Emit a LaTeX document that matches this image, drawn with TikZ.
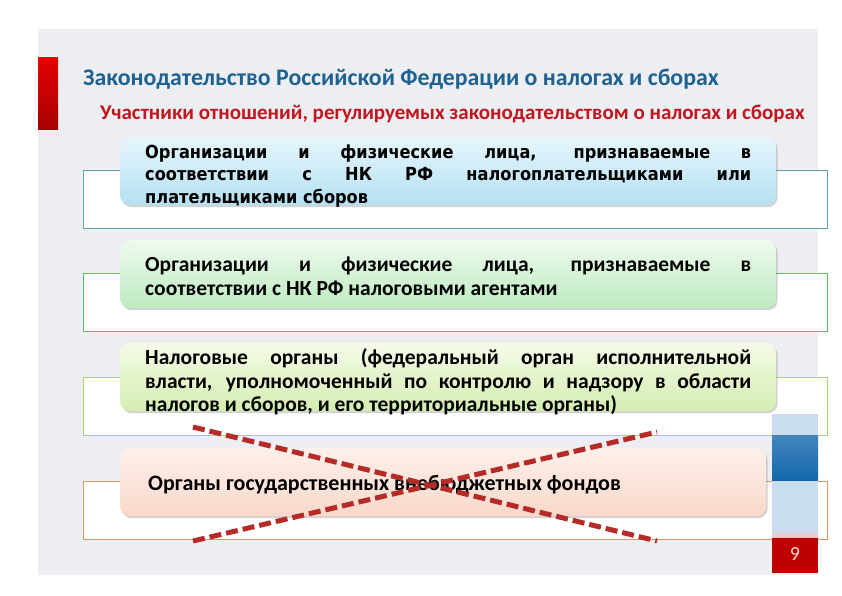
\documentclass[tikz,border=0pt]{standalone}
\usepackage{fontspec}
\setmainfont{Carlito}
\newfontfamily\tahfont[FakeStretch=0.9]{DejaVu Sans}
\usepackage{tikz}
\usetikzlibrary{shadows,calc}

\definecolor{slidegray}{HTML}{EDEEF1}
\definecolor{titleblue}{HTML}{1D6291}
\definecolor{subred}{HTML}{C0161E}
\definecolor{crossred}{HTML}{B52B27}
\definecolor{tealline}{HTML}{5FA5AE}
\definecolor{greenline}{HTML}{5DBE62}
\definecolor{limeline}{HTML}{A2D66E}
\definecolor{tanline}{HTML}{D49A66}
\definecolor{stripblue}{HTML}{C9DDEE}
\definecolor{darkblue}{HTML}{1467AD}

\begin{document}
\begin{tikzpicture}[x=1pt,y=-1pt,
    outerbox/.style={draw,fill=white,line width=1.1pt,minimum width=744pt,minimum height=58pt,anchor=north west,inner sep=0pt},
    innerbox/.style={rounded corners=10pt,minimum width=656pt,minimum height=68pt,anchor=north west,
        inner xsep=25pt,inner ysep=0pt,text width=606pt,align=justify,
        drop shadow={shadow xshift=1.5pt,shadow yshift=-2pt,opacity=0.35}},
    boxtext/.style={font=\bfseries\fontsize{21.5}{24.5}\selectfont},
    xline/.style={line width=5pt,dash pattern=on 12pt off 5pt,draw=crossred}
]
\useasboundingbox (0,0) rectangle (842,595);

% slide background
\fill[white] (0,0) rectangle (842,595);
\fill[slidegray] (38,29) rectangle (818,575);

% red mark at the left
\shade[top color=red!90!black,bottom color=red!65!black] (38,57) rectangle (58,129);

% headings
\node[anchor=base west,text=titleblue,inner sep=0pt,font=\bfseries\fontsize{23.8}{28}\selectfont] (title) at (83,85)
  {Законодательство Российской Федерации о налогах и сборах};
\node[anchor=base west,text=subred,inner sep=0pt,font=\bfseries\fontsize{21}{24}\selectfont] (subtitle) at (100,119)
  {Участники отношений, регулируемых законодательством о налогах и сборах};

% back frames
\node[outerbox,draw=tealline] (frame1) at (83,170) {};
\node[outerbox,draw=greenline] (frame2) at (83,273) {};
\node[outerbox,draw=limeline] (frame3) at (83,377) {};
\node[outerbox,draw=tanline] (frame4) at (83,481) {};

% front boxes
\node[innerbox,top color={rgb,255:red,230;green,246;blue,252},bottom color={rgb,255:red,180;green,224;blue,242},
      text height=21pt,text depth=47pt,font=\tahfont\bfseries\fontsize{18}{22.5}\selectfont] (box1) at (120,137)
  {Организации и физические лица, признаваемые в\linebreak соответствии с НК РФ налогоплательщиками или\linebreak плательщиками сборов};
\node[innerbox,boxtext,top color={rgb,255:red,238;green,250;blue,238},bottom color={rgb,255:red,189;green,235;blue,191},
      text height=31pt,text depth=37pt] (box2) at (120,240)
  {Организации и физические лица, признаваемые в\linebreak соответствии с НК РФ налоговыми агентами};
\node[innerbox,top color={rgb,255:red,244;green,251;blue,232},bottom color={rgb,255:red,212;green,237;blue,176},
      text height=21pt,text depth=47pt,font=\bfseries\fontsize{21.5}{23.8}\selectfont] (box3) at (120,343)
  {Налоговые органы (федеральный орган исполнительной\linebreak власти, уполномоченный по контролю и надзору в области\linebreak налогов и сборов, и его территориальные органы)};
\node[innerbox,minimum width=646pt,text width=596pt,top color={rgb,255:red,253;green,240;blue,234},bottom color={rgb,255:red,250;green,216;blue,202},
      text height=42pt,text depth=26pt,font=\bfseries\fontsize{22}{24.5}\selectfont] (box4) at (120,448)
  {\hspace*{3pt}Органы государственных внебюджетных фондов};

% strip at the right
\fill[stripblue] (772,414) rectangle (818,435);
\shade[top color=darkblue!80,bottom color=darkblue] (772,435) rectangle (818,481);
\fill[stripblue] (772,481) rectangle (818,530);
\shade[top color=stripblue,bottom color=red!25] (772,530) rectangle (818,538);
\fill[red!75!black] (772,538) rectangle (818,573);
\node[text=red!15!white,font=\fontsize{20}{22}\selectfont] (pagenum) at (795,554) {9};

% crossing out
\coordinate (xa) at (193,427);
\coordinate (xb) at (657,541);
\coordinate (xc) at (193,541);
\coordinate (xd) at (657,432);
\draw[xline] (xa) -- (xb);
\draw[xline] (xc) -- (xd);

\end{tikzpicture}
\end{document}
